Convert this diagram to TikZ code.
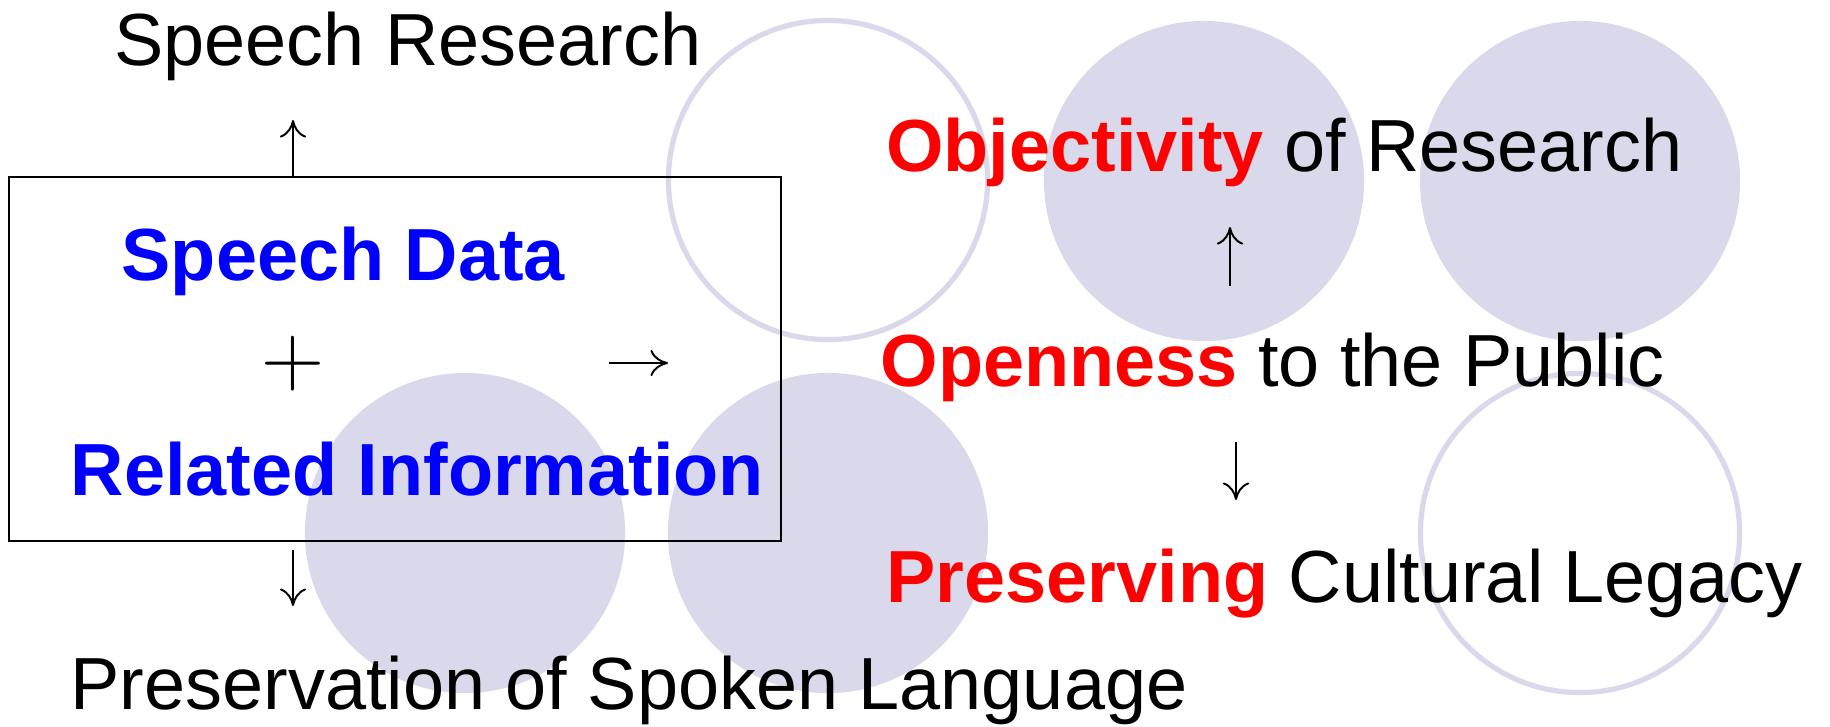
\documentclass[tikz,border=0pt]{standalone}
\usepackage{fontspec}
\setmainfont{Liberation Sans}
\usetikzlibrary{arrows.meta}
\definecolor{lav}{RGB}{218,217,236}

\begin{document}
\begin{tikzpicture}[x=0.01cm,y=-0.01cm,
	every node/.style={inner sep=0pt,font=\fontsize{21pt}{25pt}\selectfont},
	txt/.style={anchor=base west},
	key/.style={font=\fontsize{21pt}{25pt}\selectfont\bfseries},
	arr/.style={line width=0.55pt,-{To[length=5pt,width=7.5pt]}},
	blob/.style={fill=lav},
	ring/.style={draw=lav,line width=1.5pt}]
\useasboundingbox (0,0) rectangle (1830,726);
% background circles
\fill[blob] (1204,181) circle[radius=1.6cm];
\fill[blob] (1580,181) circle[radius=1.6cm];
\fill[blob] (465,533) circle[radius=1.6cm];
\fill[blob] (828,533) circle[radius=1.6cm];
\draw[ring] (828,180) circle[radius=1.595cm];
\draw[ring] (1580,533) circle[radius=1.595cm];
% left part
\node[draw,line width=0.6pt,minimum width=7.72cm,minimum height=3.64cm] (box) at (395,359) {};
\node[txt] (research) at (113.5,65) {Speech Research};
\node[txt,key,text=blue] (data) at (121,280) {Speech Data};
\node (plus) at (292.5,364) {\fontsize{23pt}{26pt}\selectfont$+$};
\node[txt,key,text=blue] (related) at (70,495) {Related Information};
\node[txt] (preservation) at (70,709) {Preservation of Spoken Language};
\coordinate (up1) at (293,120);
\coordinate (dn1s) at (293,550);
\coordinate (dn1) at (293,606);
\coordinate (rts) at (609,363);
\coordinate (rt) at (668,363);
\draw[arr] (up1 |- box.north) -- (up1);
\draw[arr] (dn1s) -- (dn1);
\draw[arr] (rts) -- (rt);
% right part
\node[txt] (objectivity) at (885.6,171) {\textcolor{red}{\bfseries Objectivity} of Research};
\node[txt] (openness) at (880,386.6) {\textcolor{red}{\bfseries Openness} to the Public};
\node[txt] (preserving) at (886,602) {\textcolor{red}{\bfseries Preserving} Cultural Legacy};
\coordinate (up2s) at (1230,286);
\coordinate (up2) at (1230,227);
\coordinate (dn2s) at (1236,442);
\coordinate (dn2) at (1236,500);
\draw[arr] (up2s) -- (up2);
\draw[arr] (dn2s) -- (dn2);
\end{tikzpicture}
\end{document}
